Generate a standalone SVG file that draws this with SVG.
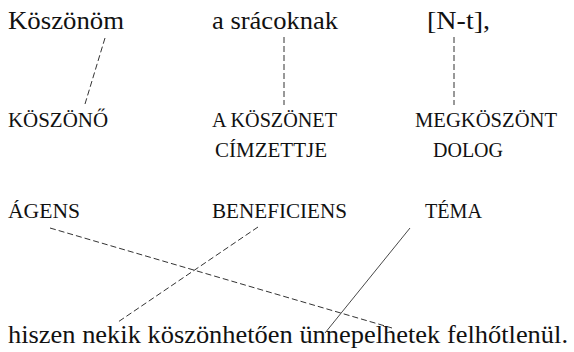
<svg xmlns="http://www.w3.org/2000/svg" width="574" height="352" viewBox="0 0 574 352">
<style>
.big{font-size:26px;fill:#111}
.lab{font-size:20px;fill:#111}
.d{stroke:#333;stroke-width:1;stroke-dasharray:6 3;fill:none}
.s{stroke:#333;stroke-width:0.9;fill:none}
</style>
<rect width="574" height="352" fill="#fff"/>
<g id="connectors">
<line class="d" x1="105" y1="38" x2="85" y2="104"/>
<line class="d" x1="284" y1="37" x2="284" y2="105"/>
<line class="d" x1="454" y1="37" x2="454" y2="105"/>
<line class="d" x1="50" y1="228" x2="392" y2="328"/>
<line class="d" x1="258" y1="227" x2="118" y2="322"/>
<line class="s" x1="410" y1="228" x2="325" y2="333"/>
</g>
<g id="w1"><text class="big" font-family="Liberation Serif, serif" x="8" y="29" textLength="116" lengthAdjust="spacingAndGlyphs">Köszönöm</text></g>
<g id="w2"><text class="big" font-family="Liberation Serif, serif" x="212" y="29" textLength="126" lengthAdjust="spacingAndGlyphs">a srácoknak</text></g>
<g id="w3"><text class="big" font-family="Liberation Serif, serif" x="427" y="29" textLength="63" lengthAdjust="spacingAndGlyphs">[N-t],</text></g>
<g id="r1"><text class="lab" font-family="Liberation Serif, serif" x="8" y="127" textLength="100" lengthAdjust="spacingAndGlyphs">KÖSZÖNŐ</text></g>
<g id="r2"><text class="lab" font-family="Liberation Serif, serif" x="212" y="127" textLength="125" lengthAdjust="spacingAndGlyphs">A KÖSZÖNET</text><text class="lab" font-family="Liberation Serif, serif" x="215" y="157" textLength="112" lengthAdjust="spacingAndGlyphs">CÍMZETTJE</text></g>
<g id="r3"><text class="lab" font-family="Liberation Serif, serif" x="415" y="127" textLength="142" lengthAdjust="spacingAndGlyphs">MEGKÖSZÖNT</text><text class="lab" font-family="Liberation Serif, serif" x="433" y="157" textLength="70" lengthAdjust="spacingAndGlyphs">DOLOG</text></g>
<g id="t1"><text class="lab" font-family="Liberation Serif, serif" x="8" y="218" textLength="72" lengthAdjust="spacingAndGlyphs">ÁGENS</text></g>
<g id="t2"><text class="lab" font-family="Liberation Serif, serif" x="212" y="218" textLength="135" lengthAdjust="spacingAndGlyphs">BENEFICIENS</text></g>
<g id="t3"><text class="lab" font-family="Liberation Serif, serif" x="425" y="218" textLength="57" lengthAdjust="spacingAndGlyphs">TÉMA</text></g>
<g id="sentence"><text class="big" font-family="Liberation Serif, serif" x="8" y="343" textLength="560" lengthAdjust="spacingAndGlyphs">hiszen nekik köszönhetően ünnepelhetek felhőtlenül.</text></g>
</svg>
